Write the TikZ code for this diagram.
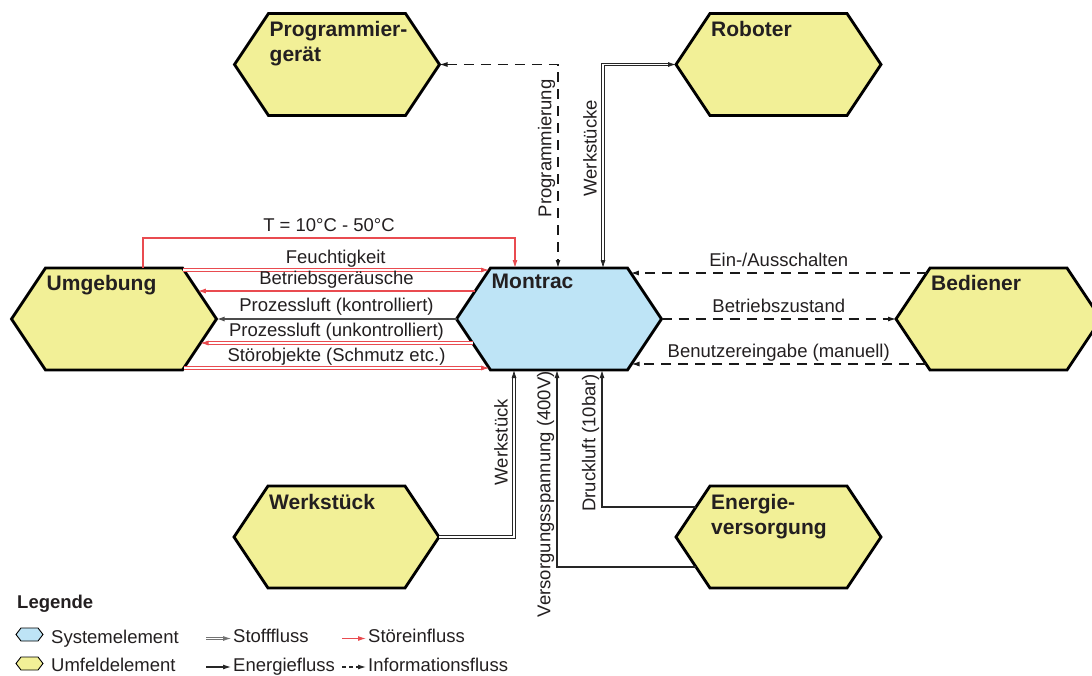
\documentclass[tikz,border=0pt]{standalone}
\usepackage{fontspec}
\setmainfont{Liberation Sans}
\usetikzlibrary{arrows.meta}
\definecolor{SysClr}{HTML}{BEE4F6}
\definecolor{EnvClr}{HTML}{F2F097}
\definecolor{DistClr}{HTML}{E94B50}
\definecolor{TxtClr}{HTML}{231F20}

% hexagon outline around a (rectangular) node: name, slant, style
\newcommand\hexa[3]{%
  \filldraw[#3] (#1.west) -- ([xshift=#2]#1.north west) -- ([xshift=-#2]#1.north east)
    -- (#1.east) -- ([xshift=-#2]#1.south east) -- ([xshift=#2]#1.south west) -- cycle;}

\tikzset{
  elem/.style={rectangle, inner sep=0pt, outer sep=0pt, minimum width=205pt, minimum height=102pt},
  hexline/.style={line width=2.8pt, draw=black, line join=miter},
  hextitle/.style={font=\bfseries\fontsize{21}{25}\selectfont, text=TxtClr, align=left, inner sep=0pt, anchor=north west},
  lbl/.style={font=\fontsize{18.5}{20}\selectfont, text=TxtClr, inner xsep=0pt, inner ysep=6pt, text depth=0pt},
  vlbl/.style={lbl, rotate=90, anchor=south},
  legtxt/.style={font=\fontsize{18.5}{20}\selectfont, text=TxtClr, inner sep=0pt, anchor=base west},
  flow/.style={line width=1.1pt},
  energie/.style={flow, draw=black!85},
  stoff/.style={flow, draw=black!85, line width=0.8pt, double, double distance=1.6pt},
  stoer/.style={flow, draw=DistClr},
  stoerstoff/.style={stoff, draw=DistClr},
  info/.style={flow, draw=black!90, dash pattern=on 10pt off 7pt},
}

\begin{document}
\begin{tikzpicture}[x=1pt, y=-1pt, >={Latex[length=8pt,width=5pt]}]
\useasboundingbox (0,0) rectangle (1092,675);

% elements
\node[elem] (prog) at (337,64.5) {};
\node[elem] (rob)  at (778.5,64.5) {};
\node[elem] (umg)  at (114,319) {};
\node[elem] (mon)  at (559,319) {};
\node[elem] (bed)  at (998.5,319) {};
\node[elem] (werk) at (336.5,537) {};
\node[elem] (ener) at (778.5,537) {};

\hexa{prog}{34pt}{hexline, fill=EnvClr}
\hexa{rob}{34pt}{hexline, fill=EnvClr}
\hexa{umg}{34pt}{hexline, fill=EnvClr}
\hexa{mon}{34pt}{hexline, fill=SysClr}
\hexa{bed}{34pt}{hexline, fill=EnvClr}
\hexa{werk}{34pt}{hexline, fill=EnvClr}
\hexa{ener}{34pt}{hexline, fill=EnvClr}

\node[hextitle] at ([shift={(35,8)}]prog.north west) {Programmier-\\gerät};
\node[hextitle] at ([shift={(35,8)}]rob.north west) {Roboter};
\node[hextitle] at ([shift={(35,7)}]umg.north west) {Umgebung};
\node[hextitle] at ([shift={(35,6)}]mon.north west) {Montrac};
\node[hextitle] at ([shift={(35,7)}]bed.north west) {Bediener};
\node[hextitle] at ([shift={(35,8)}]werk.north west) {Werkstück};
\node[hextitle] at ([shift={(35,8)}]ener.north west) {Energie-\\versorgung};

% Umgebung <-> Montrac
\draw[stoer,->] ([shift={(29,0)}]umg.north) -- ++(0,-30)
  -| node[pos=0.25, lbl, above] {T = 10°C - 50°C} ([shift={(-44,0)}]mon.north);
\draw[stoerstoff,->] ([shift={(-34,2)}]umg.north east) -- node[lbl, above] {Feuchtigkeit} ([shift={(32.5,2)}]mon.north west);
\draw[stoer,->] ([shift={(18.7,-28)}]mon.west) -- node[lbl, above] {Betriebsgeräusche} ([shift={(-18.7,-28)}]umg.east);
\draw[line width=2.6pt, draw=black!70, ->] (mon.west) -- node[lbl, above] {Prozessluft (kontrolliert)} (umg.east);
\draw[stoerstoff,->] ([shift={(16,24)}]mon.west) -- node[lbl, above] {Prozessluft (unkontrolliert)} ([shift={(-16,24)}]umg.east);
\draw[stoerstoff,->] ([shift={(-32.7,49)}]umg.east) -- node[lbl, above] {Störobjekte (Schmutz etc.)} ([shift={(32.7,49)}]mon.west);

% Bediener <-> Montrac
\draw[info,->] ([shift={(30.7,-46)}]bed.west) -- node[lbl, above] {Ein-/Ausschalten} ([shift={(-30.7,-46)}]mon.east);
\draw[info,->] (mon.east) -- node[lbl, above] {Betriebszustand} (bed.west);
\draw[info,->] ([shift={(30,45)}]bed.west) -- node[lbl, above] {Benutzereingabe (manuell)} ([shift={(-30,45)}]mon.east);

% Programmiergeraet, Roboter
\draw[info,<->] (prog.east) -| node[pos=0.706, vlbl] {Programmierung} ([shift={(-1,0)}]mon.north);
\draw[stoff,<->] (rob.west) -| node[pos=0.706, vlbl] {Werkstücke} ([shift={(44,0)}]mon.north);

% Werkstueck, Energieversorgung
\draw[stoff,->] (werk.east) -| node[pos=0.784, vlbl] {Werkstück} ([shift={(-45,0)}]mon.south);
\draw[energie,->] ([shift={(20,30)}]ener.west) -| node[pos=0.685, vlbl] {Versorgungsspannung (400V)} ([shift={(-2,0)}]mon.south);
\draw[energie,->] ([shift={(20,-30)}]ener.west) -| node[pos=0.734, vlbl] {Druckluft (10bar)} ([shift={(43,0)}]mon.south);

% legend
\node[legtxt, font=\bfseries\fontsize{18.5}{20}\selectfont] (leg) at (17,608) {Legende};
\node[elem, minimum width=27pt, minimum height=13pt] (lgsys) at (29.5,634.5) {};
\node[elem, minimum width=27pt, minimum height=13pt] (lgenv) at (29.5,663.5) {};
\hexa{lgsys}{5pt}{line width=0.9pt, fill=SysClr}
\hexa{lgenv}{5pt}{line width=0.9pt, fill=EnvClr}
\node[legtxt] (tsys) at (51,643) {Systemelement};
\node[legtxt] (tenv) at (51,671.5) {Umfeldelement};

\node[legtxt] (tstoff) at (233,642.5) {Stofffluss};
\node[legtxt] (tenerg) at (233,671) {Energiefluss};
\node[legtxt] (tstoer) at (368,642.5) {Störeinfluss};
\node[legtxt] (tinfo)  at (368,671) {Informationsfluss};
\draw[stoff, draw=black!55, ->] ([xshift=-27pt,yshift=4pt]tstoff.base west) -- ([xshift=-2pt,yshift=4pt]tstoff.base west);
\draw[energie,->] ([xshift=-27pt,yshift=4pt]tenerg.base west) -- ([xshift=-2pt,yshift=4pt]tenerg.base west);
\draw[stoer,->] ([xshift=-26pt,yshift=4pt]tstoer.base west) -- ([xshift=-2pt,yshift=4pt]tstoer.base west);
\draw[energie, dash pattern=on 4pt off 3pt,->] ([xshift=-26pt,yshift=4pt]tinfo.base west) -- ([xshift=-2pt,yshift=4pt]tinfo.base west);
\end{tikzpicture}
\end{document}
